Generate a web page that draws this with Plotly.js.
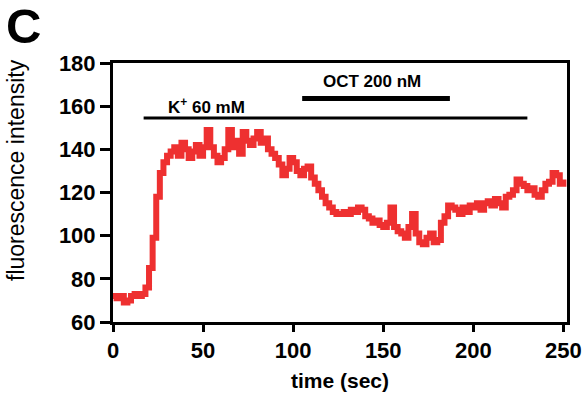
<!DOCTYPE html>
<html>
<head>
<meta charset="utf-8">
<script src="https://cdn.plot.ly/plotly-3.0.1.min.js"></script>
<style>
html,body{margin:0;padding:0;background:#fff;}
#chart{width:583px;height:394px;}
</style>
</head>
<body>
<div id="chart"></div>
<script>
// time (sec)
const timeSec = [0,2,4,6,8,10,12,14,16,18,20,22,24,26,28,30,32,34,36,38,40,42,44,46,48,50,52,54,56,58,60,62,64,66,68,70,72,74,76,78,80,82,84,86,88,90,92,94,96,98,100,102,104,106,108,110,112,114,116,118,120,122,124,126,128,130,132,134,136,138,140,142,144,146,148,150,152,154,156,158,160,162,164,166,168,170,172,174,176,178,180,182,184,186,188,190,192,194,196,198,200,202,204,206,208,210,212,214,216,218,220,222,224,226,228,230,232,234,236,238,240,242,244,246,248,250];
// fluorescence intensity
const intensity = [72,71,72,69,70,72,73,72,73,76,85,99,118,129,134,137,139,141,137,143,140,136,139,142,137,141,149,141,137,134,136,140,149,141,144,138,148,144,142,145,148,143,145,140,138,136,133,128,131,136,134,130,128,131,132,127,124,121,118,115,113,111,110,110,111,110,112,111,113,112,109,108,106,107,105,104,106,113,104,102,101,99,104,110,101,97,96,99,101,97,98,106,109,114,113,112,110,113,111,114,113,115,112,115,116,114,117,115,113,118,119,121,126,124,123,121,122,119,118,121,124,125,129,128,124,126];
// treatment bars: [start, end] in sec, drawn at level
const kBarX = [17, 230];
const kBarY = [154.5, 154.5];
const octBarX = [105, 187];
const octBarY = [163.5, 163.5];
const kLabel = {x: 52, y: 160, text: 'K<sup>+</sup> 60 mM'};
const octLabel = {x: 143.5, y: 171.5, text: 'OCT 200 nM'};
const xTicks = [0,50,100,150,200,250];
const yTicks = [60,80,100,120,140,160,180];

const FAM = 'Liberation Sans, Arial, Helvetica, sans-serif';

const traces = [
  {x: timeSec, y: intensity, type: 'scatter', mode: 'lines',
   line: {color: '#ee3030', width: 6, shape: 'hv'}, hoverinfo: 'skip'},
  {x: kBarX, y: kBarY, type: 'scatter', mode: 'lines',
   line: {color: '#000', width: 3}, hoverinfo: 'skip'},
  {x: octBarX, y: octBarY, type: 'scatter', mode: 'lines',
   line: {color: '#000', width: 5}, hoverinfo: 'skip'}
];

const layout = {
  width: 583, height: 394,
  margin: {l: 113, r: 16, t: 63, b: 72},
  paper_bgcolor: '#fff', plot_bgcolor: '#fff',
  showlegend: false,
  font: {family: FAM, color: '#000'},
  xaxis: {
    range: [0, 252], tickvals: xTicks, ticktext: xTicks.map(String),
    showline: true, linecolor: '#000', linewidth: 3, mirror: true,
    ticks: 'outside', ticklen: 7, tickwidth: 3, tickcolor: '#000',
    showgrid: false, zeroline: false,
    tickfont: {family: FAM, size: 22, weight: 'bold', color: '#000'},
    title: {text: 'time (sec)', font: {family: FAM, size: 21, weight: 'bold', color: '#000'}, standoff: 11}
  },
  yaxis: {
    range: [60, 180], tickvals: yTicks, ticktext: yTicks.map(String),
    showline: true, linecolor: '#000', linewidth: 3, mirror: true,
    ticks: 'outside', ticklen: 10, tickwidth: 3, tickcolor: '#000',
    showgrid: false, zeroline: false,
    tickfont: {family: FAM, size: 22, weight: 'bold', color: '#000'}
  },
  annotations: [
    {xref: 'paper', yref: 'paper', x: (16-113)/454, y: (322-170)/259, xanchor: 'center', yanchor: 'middle',
     text: 'fluorescence intensity', textangle: -90, showarrow: false,
     font: {family: FAM, size: 23, color: '#000'}},
    {xref: 'paper', yref: 'paper', x: (4-113)/454, y: (322-26)/259, xanchor: 'left', yanchor: 'middle',
     text: 'C', showarrow: false, font: {family: FAM, size: 49, weight: 'bold', color: '#000'}},
    {x: kLabel.x, y: kLabel.y, text: kLabel.text, showarrow: false, xanchor: 'center', yanchor: 'middle',
     font: {family: FAM, size: 17, weight: 'bold', color: '#000'}},
    {x: octLabel.x, y: octLabel.y, text: octLabel.text, showarrow: false, xanchor: 'center', yanchor: 'middle',
     font: {family: FAM, size: 17, weight: 'bold', color: '#000'}}
  ]
};

Plotly.newPlot('chart', traces, layout, {staticPlot: true, displayModeBar: false});
</script>
</body>
</html>
